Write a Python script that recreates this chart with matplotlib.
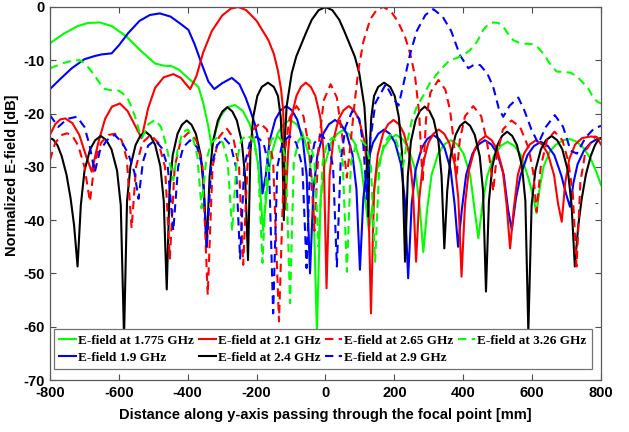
import matplotlib
matplotlib.use("Agg")
import matplotlib.pyplot as plt

# --- data (x in mm, y in dB) ---
green_1775 = [(-800, -6.8), (-760, -5), (-720, -3.6), (-690, -3), (-655, -2.9), (-620, -3.6), (-577, -5.6),
              (-540, -8), (-495, -10.6), (-470, -11), (-447, -11.1), (-425, -11.8), (-398, -13.4), (-369, -15),
              (-355, -18), (-340, -22.5), (-330, -26.5), (-318, -23), (-305, -20.5), (-285, -18.8), (-263, -18.4),
              (-240, -19.5), (-220, -22), (-207, -25), (-195, -30), (-181, -42),
              (-170, -34.2), (-157.6, -27.7), (-138.9, -23.7), (-121.7, -22), (-103, -21.2), (-84.3, -22),
              (-67.1, -23.7), (-48.4, -27.7), (-36, -34.2), (-25, -61),
              (-14.4, -36.1), (-2.4, -29.6), (15.8, -25.6), (32.4, -23.9), (50.5, -23.1), (68.6, -23.9),
              (85.2, -25.6), (103.4, -29.6), (115.4, -36.1), (126, -42),
              (137, -37), (149.7, -30.5), (168.7, -26.5), (186, -24.8), (205, -24), (224, -24.8),
              (241.3, -26.5), (260.3, -30.5), (273, -37), (284, -46),
              (295.2, -38), (308, -31.5), (327.2, -27.5), (344.8, -25.8), (364, -25), (383.2, -25.8),
              (400.8, -27.5), (420, -31.5), (432.8, -38), (444, -43.4),
              (455.8, -37), (469.4, -31.8), (489.6, -27.8), (508.2, -26.1), (528.5, -25.3), (548.8, -26.1),
              (567.4, -27.8), (587.7, -31.8), (601, -35), (613, -38.7),
              (622, -34), (633, -30), (652, -27), (670, -25.8), (690, -25), (710, -24.8), (730, -25.3),
              (750, -26.5), (770, -28.5), (785, -30.7), (800, -33.4)]

blue_19 = [(-800, -15.4), (-770, -13.5), (-737, -11.5), (-700, -9.8), (-670, -9.2), (-650, -8.9), (-621, -8.7),
           (-600, -7.2), (-573, -4.9), (-540, -2.6), (-510, -1.5), (-481, -1.2), (-450, -1.8), (-420, -3.2),
           (-398, -4.3), (-380, -7), (-360, -10.6), (-340, -14), (-323, -15.4), (-300, -14.3), (-272, -13.3),
           (-250, -14.5), (-232, -17), (-219, -19.3), (-205, -22), (-192, -26), (-183, -35),
           (-173.3, -31.6), (-162.3, -25.1), (-145.7, -21.1), (-130.6, -19.4), (-114, -18.6), (-97.4, -19.4),
           (-82.3, -21.1), (-65.7, -25.1), (-54.7, -31.6), (-45, -50),
           (-34.9, -34.2), (-23.3, -27.7), (-5.9, -23.7), (10.1, -22), (27.5, -21.2), (44.9, -22),
           (60.9, -23.7), (78.3, -27.7), (89.9, -34.2), (100, -49.3),
           (109.8, -36), (121, -29.5), (137.8, -25.5), (153.2, -23.8), (170, -23), (186.8, -23.8),
           (202.2, -25.5), (219, -29.5), (230.2, -36), (240, -50.9),
           (250.2, -37), (261.8, -30.5), (279.2, -26.5), (295.1, -24.8), (312.5, -24), (329.9, -24.8),
           (345.9, -26.5), (363.3, -30.5), (374.9, -37), (385, -45),
           (395.9, -38), (408.4, -31.5), (427.1, -27.5), (444.3, -25.8), (463, -25), (481.7, -25.8),
           (498.9, -27.5), (517.6, -31.5), (530.1, -38), (541, -41.8),
           (552.8, -36), (566.4, -31.6), (586.6, -27.8), (605.2, -26.1), (625.5, -25.3), (645.8, -26.1),
           (664.4, -27.8), (684.7, -31.6), (698.2, -35), (710, -37.5),
           (720, -33), (732, -29.5), (750, -27), (770, -25.5), (785, -24.9), (800, -24.6)]

red_21 = [(-800, -24), (-785, -22), (-770, -21.1), (-756, -20.9), (-735, -21.8), (-715, -24), (-695, -28),
          (-679, -30.9), (-660, -25.5), (-640, -21), (-620, -18.7), (-597, -18.1), (-575, -19.5), (-555, -22),
          (-534, -24.6), (-515, -19), (-495, -15.2), (-470, -13.2), (-442, -12.6), (-420, -13.3), (-405, -14.5),
          (-393, -15.4), (-375, -13), (-355, -8.5), (-330, -4.5), (-300, -1.6), (-275, -0.3), (-253, 0),
          (-230, -0.6), (-200, -2.6), (-166, -6.2), (-150, -8.8), (-138, -12), (-129, -15.5), (-123, -19.3),
          (-120, -26), (-117, -38),
          (-108.6, -27.2), (-99, -20.7), (-84.6, -16.7), (-71.4, -15), (-57, -14.2), (-42.6, -15),
          (-29.4, -16.7), (-15, -20.7), (-5.4, -27.2), (3, -52.8),
          (12, -31.6), (22.4, -25.1), (37.8, -21.1), (52, -19.4), (67.5, -18.6), (83, -19.4),
          (97.2, -21.1), (112.6, -25.1), (123, -31.6), (132, -57.5),
          (141.2, -34.2), (151.7, -27.7), (167.4, -23.7), (181.8, -22), (197.5, -21.2), (213.2, -22),
          (227.6, -23.7), (243.4, -27.7), (253.8, -34.2), (263, -47.8),
          (272.2, -36), (282.8, -29.5), (298.6, -25.5), (313.2, -23.8), (329, -23), (344.8, -23.8),
          (359.4, -25.5), (375.2, -29.5), (385.8, -36), (395, -50.6),
          (404.9, -37.2), (416.2, -30.7), (433.1, -26.7), (448.6, -25), (465.5, -24.2), (482.4, -25),
          (498, -26.7), (514.9, -30.7), (526.1, -37.2), (536, -45.3),
          (546.5, -38), (558.5, -31.5), (576.5, -27.5), (593, -25.8), (611, -25), (629, -25.8),
          (645.5, -27.5), (663.5, -31.5), (675.5, -37), (686, -40.3),
          (696, -33), (708, -28.5), (725, -25.8), (745, -24.6), (770, -24.3), (787, -24.4), (800, -25.8)]

black_24 = [(-800, -24.6), (-790, -24.9), (-778, -26), (-766, -28), (-752, -31.5), (-740, -36), (-730, -41),
            (-720, -48.7),
            (-710.5, -37.2), (-699.8, -30.7), (-683.5, -26.7), (-668.7, -25), (-652.5, -24.2), (-636.3, -25),
            (-621.5, -26.7), (-605.3, -30.7), (-594.5, -37.2), (-585, -62),
            (-576.3, -36.4), (-566.4, -29.9), (-551.5, -25.9), (-537.9, -24.2), (-523, -23.4), (-508.1, -24.2),
            (-494.5, -25.9), (-479.6, -29.9), (-469.7, -36.4), (-461, -53),
            (-452.9, -34.3), (-443.6, -27.8), (-429.7, -23.8), (-416.9, -22.1), (-403, -21.3), (-389.1, -22.1),
            (-376.3, -23.8), (-362.4, -27.8), (-353.1, -34.3), (-345, -45),
            (-336.6, -31.8), (-327, -25.3), (-312.6, -21.3), (-299.4, -19.6), (-285, -18.8), (-270.6, -19.6),
            (-257.4, -21.3), (-243, -25.3), (-233.4, -31.8), (-225, -47.5),
            (-218, -27.2), (-210, -20.7), (-198, -16.7), (-185, -15), (-167, -14.2), (-150, -15),
            (-138, -16.7), (-130, -20.7), (-125, -27.2), (-121, -40),
            (-118, -25), (-113, -18.7), (-98, -12.4), (-85, -9.3), (-69, -6.8), (-55, -4.6), (-40, -2.4),
            (-20, -0.6), (0, 0), (20, -0.6), (40, -2.4), (55, -4.6), (69, -6.8), (85, -9.3), (98, -12.4),
            (113, -18.7), (119, -25), (124, -39.3),
            (128, -27.2), (133, -20.7), (141, -16.7), (153, -15), (170, -14.2), (188, -15), (201, -16.7),
            (213, -20.7), (222, -27.2), (231, -47.8),
            (239, -31.7), (248.1, -25.2), (261.8, -21.2), (274.3, -19.5), (288, -18.7), (301.7, -19.5),
            (314.2, -21.2), (327.9, -25.2), (337, -31.7), (345, -45.3),
            (353.5, -34.5), (363.2, -28), (377.7, -24), (391, -22.3), (405.5, -21.5), (420, -22.3),
            (433.3, -24), (447.9, -28), (457.5, -34.5), (466, -53.4),
            (474.6, -36.4), (484.5, -29.9), (499.2, -25.9), (512.7, -24.2), (527.5, -23.4), (542.3, -24.2),
            (555.8, -25.9), (570.6, -29.9), (580.4, -36.4), (589, -61),
            (598.5, -37.2), (609.3, -30.7), (625.5, -26.7), (640.3, -25), (656.5, -24.2), (672.7, -25),
            (687.6, -26.7), (703.8, -30.7), (714.6, -37.2), (724, -48.7),
            (734, -41), (744, -36), (756, -31.5), (770, -28), (782, -26), (792, -24.9), (800, -24.6)]

red_265 = [(-800, -28.7), (-785, -25.5), (-765, -24), (-750, -23.7), (-735, -24.2), (-718, -26), (-700, -30),
           (-684, -36.5), (-670, -29), (-652, -25.5), (-630, -24), (-611, -23.8), (-592, -25), (-577, -28.5),
           (-563, -41.5), (-550, -30), (-532, -25.5), (-508, -24), (-485, -25.5), (-466, -30), (-452, -47.2),
           (-438, -30), (-420, -25), (-397, -23.5), (-375, -25), (-357, -30), (-342, -54), (-328, -30),
           (-310, -24.5), (-288, -22.7), (-268, -24.5), (-251, -30), (-239, -48.4), (-226, -29), (-210, -23),
           (-190, -21.8), (-170, -23), (-152, -29), (-135, -59), (-120, -28), (-104, -20.8), (-84, -18.6),
           (-64, -20.5), (-46, -27), (-32, -42), (-20, -26), (-5, -17.5), (15, -14.5), (33, -17), (48, -24),
           (62, -32), (72, -26), (83, -19), (95, -12), (110, -6.5), (130, -2.3), (150, -0.4), (168, 0),
           (190, -0.8), (210, -2.7), (231, -5.6), (247, -9), (260, -13), (272, -20), (282, -33), (292, -21),
           (305, -16), (328, -13.7), (348, -15.5), (362, -19.5), (372, -25), (380, -32), (390, -25),
           (405, -20.5), (429, -18.6), (452, -20.5), (468, -25), (480, -30), (487, -34.6), (497, -28),
           (515, -23), (540, -21.3), (565, -22.5), (590, -26.5), (603, -31), (613, -38.4), (625, -30),
           (643, -25), (665, -23.4), (688, -25), (705, -29), (718, -35), (729, -48.7), (740, -33),
           (755, -27), (783, -24.3), (800, -25)]

blue_29 = [(-800, -20.3), (-776, -22.5), (-750, -21), (-722, -20.6), (-700, -22.5), (-685, -26), (-670, -31),
           (-655, -27), (-635, -25), (-612, -24), (-590, -25.5), (-573, -27.5), (-555, -31), (-543, -36),
           (-530, -29), (-515, -26), (-495, -25), (-475, -26.5), (-458, -30), (-442, -42), (-428, -30),
           (-413, -26.3), (-393, -25), (-373, -26.3), (-357, -30), (-345, -45.3), (-332, -30), (-315, -26),
           (-295, -24.5), (-275, -26), (-260, -30), (-248, -47.2), (-236, -30), (-220, -25.5), (-200, -24.3),
           (-180, -25.5), (-164, -30), (-152, -57.5), (-140, -30), (-125, -25.5), (-105, -24.2), (-85, -25.5),
           (-67, -30), (-55, -49), (-45, -30), (-32, -25.5), (-12, -24), (8, -25.5), (22, -30), (33, -48.7),
           (44, -29), (58, -22.5), (78, -19.5), (98, -21), (110, -26), (120, -36), (130, -25), (145, -18),
           (175, -14.5), (195, -17), (212, -18.5), (228, -14), (245, -9), (265, -4.5), (290, -1.5),
           (313, -0.4), (340, -1.8), (365, -4.5), (390, -9), (415, -11.5), (432, -10.8), (449, -10.9),
           (470, -12.5), (487, -15), (503, -19), (516, -20.6), (535, -18.5), (560, -17), (578, -19.5),
           (598, -23), (618, -25.6), (640, -22.5), (666, -20.3), (690, -22.5), (712, -27), (730, -27.5),
           (755, -24.5), (780, -22.8), (800, -22.3)]

green_326 = [(-800, -11.5), (-760, -10.5), (-730, -10), (-713, -10), (-698, -10.6), (-683, -11.8), (-669, -13),
             (-645, -15.3), (-625, -15.6), (-600, -15.7), (-577, -16.8), (-565, -18.5), (-553, -20.6),
             (-540, -23.5), (-532, -24.5), (-515, -22), (-495, -21.2), (-478, -22.5), (-462, -26), (-450, -30),
             (-442, -32.5), (-430, -27), (-415, -23.5), (-400, -23), (-385, -24.5), (-372, -28), (-360, -37.8),
             (-347, -29), (-332, -25.5), (-315, -24.5), (-298, -25.5), (-284, -29), (-271, -42), (-258, -29),
             (-245, -25), (-228, -24), (-210, -25), (-196, -29), (-183, -48), (-170, -29), (-158, -25),
             (-143, -24), (-128, -25), (-115, -29), (-103, -55.6), (-92, -29), (-78, -25), (-62, -24),
             (-46, -25), (-32, -29), (-20, -45), (-8, -29), (5, -25.5), (20, -24.5), (36, -25.5), (50, -29),
             (62, -49.7), (74, -29), (88, -26), (103, -25), (118, -26), (132, -30), (144, -47.8), (156, -30),
             (170, -25.5), (188, -24), (205, -25), (218, -28), (225, -30), (235, -26), (250, -21.5),
             (265, -18.7), (285, -16.5), (303, -14.3), (322, -12.7), (342, -11.2), (361, -10), (380, -9.6),
             (400, -9), (420, -8.1), (440, -6.5), (458, -4.3), (472, -3.3), (487, -2.9), (502, -3), (516, -3.7),
             (530, -5), (545, -6.2), (565, -6.8), (585, -6.9), (603, -7), (617, -7.6), (632, -8.7),
             (650, -10.5), (671, -12.1), (690, -12.2), (710, -12.3), (730, -13), (749, -14.3), (765, -15.5),
             (778, -17.1), (790, -17.8), (800, -18.1)]

labels = ["E-field at 1.775 GHz", "E-field 1.9 GHz", "E-field at 2.1 GHz", "E-field at 2.4 GHz",
          "E-field at 2.65 GHz", "E-field at 2.9 GHz", "E-field at 3.26 GHz"]
series = [green_1775, blue_19, red_21, black_24, red_265, blue_29, green_326]
colors = ["#00ff00", "#0000ff", "#ff0000", "#000000", "#ff0000", "#0000ff", "#00ff00"]
styles = ["-", "-", "-", "-", (0, (4, 2.6)), (0, (4, 2.6)), (0, (4, 2.6))]

plt.rcParams['font.family'] = ['Liberation Sans', 'DejaVu Sans']
plt.rcParams['axes.unicode_minus'] = False

fig = plt.figure(figsize=(6.29, 4.32), dpi=100)
ax = fig.add_axes([50 / 629, 1 - 380 / 432, 551 / 629, 373 / 432])

for pts, lab, col, ls in zip(series, labels, colors, styles):
    xs = [p[0] for p in pts]
    ys = [p[1] for p in pts]
    ax.plot(xs, ys, color=col, linestyle=ls, linewidth=1.5, label=lab)

ax.set_xlim(-800, 800)
ax.set_ylim(-70, 0)
ax.set_xticks(range(-800, 801, 200))
ax.set_yticks(range(-70, 1, 10))
ax.tick_params(direction='in', top=True, right=True, length=4, width=0.8,
               labelsize=10.5, color='0.3', pad=4)
for lbl in ax.get_xticklabels() + ax.get_yticklabels():
    lbl.set_fontweight('bold')
for sp in ax.spines.values():
    sp.set_color('0.35')
    sp.set_linewidth(0.9)

ax.set_xlabel('Distance along y-axis passing through the focal point [mm]', fontsize=10.5,
              fontweight='bold', labelpad=6)
ax.set_ylabel('Normalized E-field [dB]', fontsize=10.5, fontweight='bold')
ax.yaxis.set_label_coords(-0.056, 0.55)

ax.text(788, -36.8, '-', fontsize=8, ha='center', va='center')

leg = ax.legend(loc='lower center', ncol=4, bbox_to_anchor=(0.495, 0.012),
                prop={'family': 'Liberation Serif', 'weight': 'bold', 'size': 9.5},
                handlelength=1.3, handletextpad=0.15, columnspacing=0.35,
                labelspacing=0.35, borderpad=0.4, fancybox=False, framealpha=1)
leg.get_frame().set_edgecolor('0.45')
leg.get_frame().set_linewidth(0.9)

fig.savefig('out.png', dpi=100)
